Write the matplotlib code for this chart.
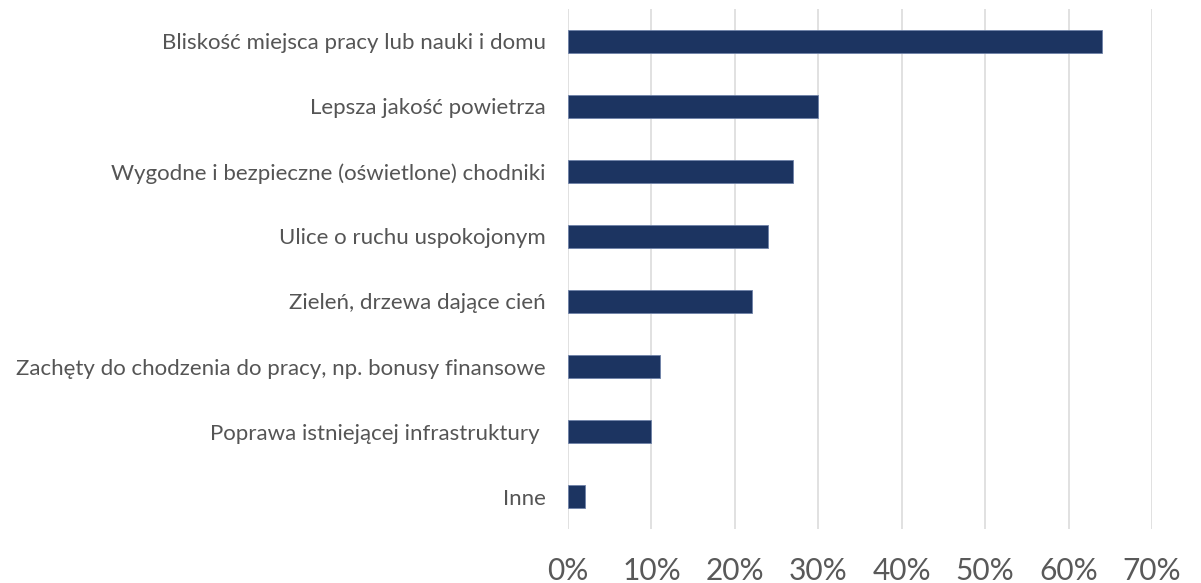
import matplotlib
matplotlib.use("Agg")
import matplotlib.pyplot as plt
from matplotlib.ticker import PercentFormatter

# answers, listed top to bottom
categories = [
    "Bliskość miejsca pracy lub nauki i domu",
    "Lepsza jakość powietrza",
    "Wygodne i bezpieczne (oświetlone) chodniki",
    "Ulice o ruchu uspokojonym",
    "Zieleń, drzewa dające cień",
    "Zachęty do chodzenia do pracy, np. bonusy finansowe",
    "Poprawa istniejącej infrastruktury ",
    "Inne",
]
shares = [0.64, 0.30, 0.27, 0.24, 0.22, 0.11, 0.10, 0.02]
xticks = [0.0, 0.1, 0.2, 0.3, 0.4, 0.5, 0.6, 0.7]

plt.rcParams['font.family'] = ['Lato', 'DejaVu Sans']

fig = plt.figure(figsize=(12.01, 5.83), dpi=100)
ax = fig.add_axes([0.4730, 0.0926, 0.4862, 0.8920])

ypos = list(range(len(categories)))
ax.barh(ypos, shares, height=0.35, color='#1c3461',
        edgecolor='#6f82a8', linewidth=0.6, zorder=3)

ax.set_ylim(len(categories) - 0.5, -0.5)
ax.set_yticks(ypos)
ax.set_yticklabels(categories, fontsize=16, color='#555555')

ax.set_xlim(0, 0.7)
ax.set_xticks(xticks)
ax.xaxis.set_major_formatter(PercentFormatter(1.0, decimals=0))
ax.tick_params(axis='x', length=0, pad=20, labelsize=21.5, labelcolor='#595959')
ax.tick_params(axis='y', length=0, pad=16)

ax.grid(axis='x', color='#d9d9d9', linewidth=1.1, zorder=0)
for s in ax.spines.values():
    s.set_visible(False)

fig.savefig("out.png", dpi=100)
